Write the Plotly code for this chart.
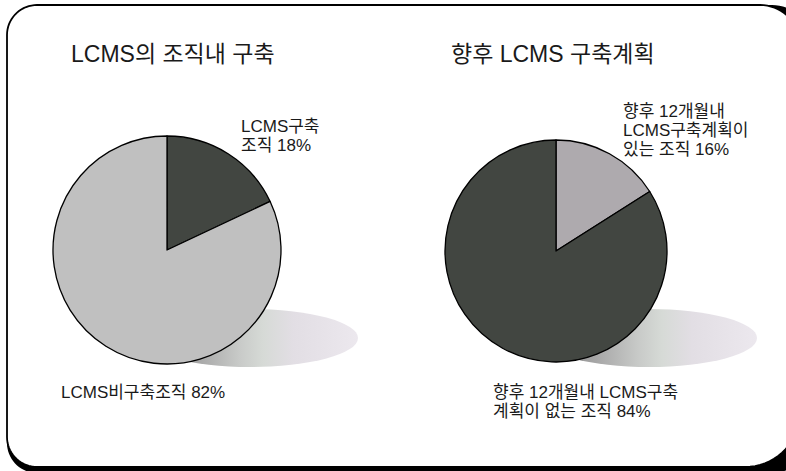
import base64
import numpy as np
import plotly.graph_objects as go

W, H = 786, 471

# ---- data ----
titles = ["LCMS의 조직내 구축", "향후 LCMS 구축계획"]
left_labels = ["LCMS구축 조직", "LCMS비구축조직"]
left_values = [18, 82]
right_labels = ["향후 12개월내 LCMS구축계획이 있는 조직", "향후 12개월내 LCMS구축 계획이 없는 조직"]
right_values = [16, 84]
left_colors = ["#424641", "#c0c0c0"]
right_colors = ["#aeaaae", "#424641"]

FONT = "Liberation Sans, Arial, Noto Sans CJK KR, sans-serif"


def X(px):
    return px / W


def Y(py):
    return 1 - py / H


def rrect_pts(x0, y0, x1, y1, radii):
    r_tr, r_br, r_bl, r_tl = radii
    pts = []
    corners = [
        (x1 - r_tr, y0 + r_tr, r_tr, -90, 0),
        (x1 - r_br, y1 - r_br, r_br, 0, 90),
        (x0 + r_bl, y1 - r_bl, r_bl, 90, 180),
        (x0 + r_tl, y0 + r_tl, r_tl, 180, 270),
    ]
    for cx, cy, r, a0, a1 in corners:
        for a in np.linspace(a0, a1, 18):
            t = np.radians(a)
            pts.append((cx + r * np.cos(t), cy + r * np.sin(t)))
    return pts


def to_path(pts):
    return "M " + " L ".join(f"{X(px):.5f},{Y(py):.5f}" for px, py in pts) + " Z"


def pie_domain(cx, cy, r):
    return dict(x=[X(cx - r), X(cx + r)], y=[Y(cy + r), Y(cy - r)])


fig = go.Figure()
fig.add_trace(go.Pie(
    values=left_values, labels=left_labels, sort=False, direction="clockwise",
    rotation=0, textinfo="none", showlegend=False, hoverinfo="label+percent",
    marker=dict(colors=left_colors, line=dict(color="black", width=1.3)),
    domain=pie_domain(167, 250, 114),
))
fig.add_trace(go.Pie(
    values=right_values, labels=right_labels, sort=False, direction="clockwise",
    rotation=0, textinfo="none", showlegend=False, hoverinfo="label+percent",
    marker=dict(colors=right_colors, line=dict(color="black", width=1.3)),
    domain=pie_domain(556, 251, 111),
))

# frame: shadow ring (enlarged rect minus inner rect) + outline
bx0, by0, bx1, by1 = 7, 5, 800, 467
outer = rrect_pts(bx0, by0, bx1 + 12, by1 + 6, (40, 40, 30, 30))
inner = rrect_pts(bx0, by0, bx1, by1, (40, 55, 30, 30))
shadow = to_path(outer) + " " + to_path(inner[::-1])
shapes = [
    dict(type="path", path=shadow, xref="paper", yref="paper",
         fillcolor="black", line=dict(width=0), layer="below"),
    dict(type="path", path=to_path(inner), xref="paper", yref="paper",
         fillcolor="rgba(0,0,0,0)", line=dict(color="black", width=1.8), layer="below"),
]

# gradient ellipse shadows as svg images
svg = (
    '<svg xmlns="http://www.w3.org/2000/svg" width="400" height="100" viewBox="0 0 400 100" '
    'preserveAspectRatio="none"><defs><linearGradient id="g" x1="0" y1="0" x2="1" y2="0">'
    '<stop offset="0" stop-color="#7c7c7c"/><stop offset="0.27" stop-color="#a9a9a9"/>'
    '<stop offset="0.45" stop-color="#c8cac8"/><stop offset="0.56" stop-color="#d6dad6"/>'
    '<stop offset="0.7" stop-color="#e2dee4"/><stop offset="1" stop-color="#ece8ee"/>'
    '</linearGradient></defs><ellipse cx="200" cy="50" rx="200" ry="50" fill="url(#g)"/></svg>'
)
src = "data:image/svg+xml;base64," + base64.b64encode(svg.encode()).decode()
images = []
for ex0, ex1 in [(142, 358), (541, 757)]:
    images.append(dict(source=src, xref="paper", yref="paper", x=X(ex0), y=Y(309),
                       sizex=(ex1 - ex0) / W, sizey=58 / H, sizing="stretch",
                       xanchor="left", yanchor="top", layer="below"))

annots = []


def txt(lines, x, ys, size):
    for s, y in zip(lines, ys):
        annots.append(dict(text=s, x=X(x), y=Y(y), xref="paper", yref="paper",
                           xanchor="left", yanchor="middle", align="left", showarrow=False,
                           font=dict(family=FONT, size=size, color="#1a1a1a")))


txt([titles[0]], 69, [54], 23)
txt([titles[1]], 449, [54], 23)
txt(["LCMS구축", f"조직 {left_values[0]}%"], 239, [127, 146], 17)
txt([f"LCMS비구축조직 {left_values[1]}%"], 59, [392], 17)
txt(["향후 12개월내", "LCMS구축계획이", f"있는 조직 {right_values[0]}%"], 621, [112, 131, 150], 17)
txt(["향후 12개월내 LCMS구축", f"계획이 없는 조직 {right_values[1]}%"], 491, [392, 411], 17)

fig.update_layout(
    width=W, height=H, margin=dict(l=0, r=0, t=0, b=0),
    paper_bgcolor="white", plot_bgcolor="white",
    shapes=shapes, images=images, annotations=annots,
    font=dict(family=FONT),
)
fig.write_html(
    "out.html", config={"displayModeBar": False},
    post_script=("document.body.style.margin='0';"
                 "document.body.style.overflow='hidden';"
                 "document.documentElement.style.overflow='hidden';"),
)
